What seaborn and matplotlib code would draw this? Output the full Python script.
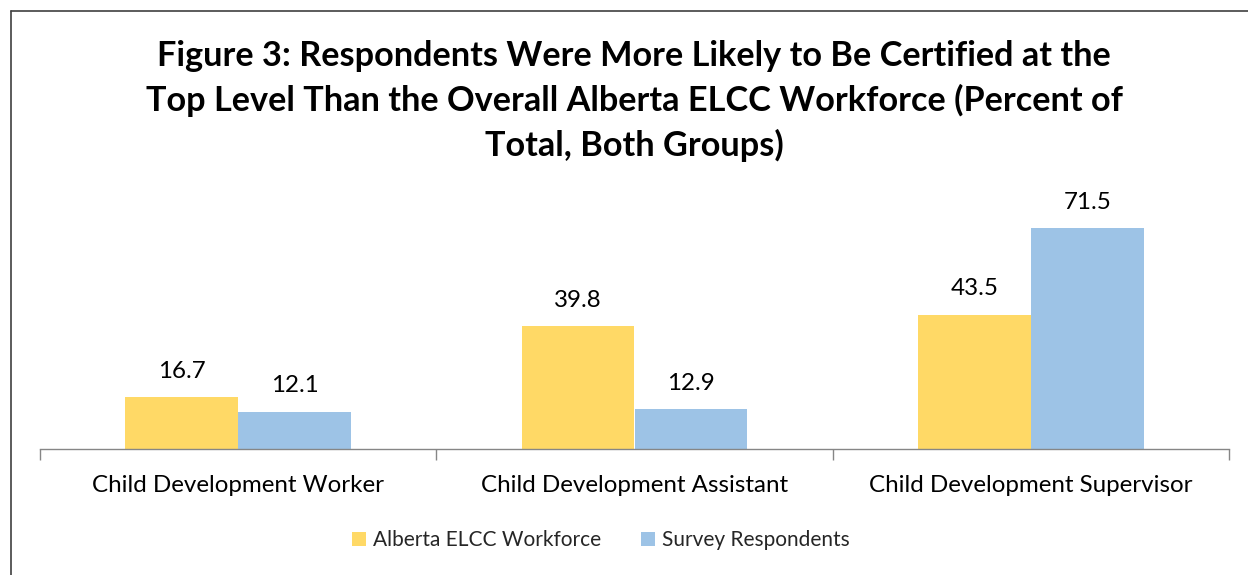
import matplotlib
matplotlib.use("Agg")
import matplotlib.pyplot as plt
from matplotlib.lines import Line2D
import seaborn as sns
import pandas as pd

categories = ["Child Development Worker", "Child Development Assistant", "Child Development Supervisor"]
series_names = ["Alberta ELCC Workforce", "Survey Respondents"]
workforce = [16.7, 39.8, 43.5]
respondents = [12.1, 12.9, 71.5]

title = ("Figure 3: Respondents Were More Likely to Be Certified at the\n"
         "Top Level Than the Overall Alberta ELCC Workforce (Percent of\n"
         "Total, Both Groups)")

colors = ["#FFD966", "#9DC3E6"]

df = pd.DataFrame({
    "category": categories * 2,
    "group": [series_names[0]] * 3 + [series_names[1]] * 3,
    "value": workforce + respondents,
})

sns.set_theme(style="white")
plt.rcParams["font.family"] = ["Lato", "DejaVu Sans"]

W, H = 1248, 575
fig = plt.figure(figsize=(W / 100, H / 100), dpi=100)
ax = fig.add_axes([40 / W, 1 - 449 / H, (1229 - 40) / W, (449 - 202) / H])

sns.barplot(data=df, x="category", y="value", hue="group", order=categories,
            hue_order=series_names, palette=colors, width=0.57, ax=ax,
            saturation=1, legend=True, edgecolor="none", linewidth=0)

ax.set_ylim(0, 80)
ax.set_xlim(-0.5, 2.5)
ax.set_xlabel("")
ax.set_ylabel("")
ax.set_yticks([])
for s in ["top", "right", "left"]:
    ax.spines[s].set_visible(False)
ax.spines["bottom"].set_color("#868686")
ax.spines["bottom"].set_linewidth(1.0)

ax.tick_params(axis="x", which="major", bottom=False, length=0, pad=19,
               labelsize=17.4, labelcolor="black")
ax.set_xticks([-0.5, 0.5, 1.5, 2.5], minor=True)
ax.tick_params(axis="x", which="minor", bottom=True, length=8, width=1.0,
               color="#868686", direction="out")

for cont in ax.containers:
    ax.bar_label(cont, labels=[f"{v:.1f}" for v in cont.datavalues],
                 padding=11, fontsize=17.4, color="black")

handles, labels = ax.get_legend_handles_labels()
ax.legend_.remove()
fig.legend(handles, labels, loc="center", bbox_to_anchor=(601 / W, 1 - 540 / H),
           ncol=2, frameon=False, fontsize=15, handlelength=0.65, handleheight=0.65,
           handletextpad=0.35, columnspacing=1.9)

fig.text(634 / W, 1 - 101 / H, title, ha="center", va="center", fontsize=24.7,
         fontweight="bold", linespacing=1.44, color="black")

# outer frame
fig.add_artist(Line2D([11 / W, 11 / W], [1 - 11 / H, 0], color="#404040", lw=1.2,
                      transform=fig.transFigure))
fig.add_artist(Line2D([11 / W, 1], [1 - 11 / H, 1 - 11 / H], color="#404040", lw=1.2,
                      transform=fig.transFigure))

fig.savefig("out.png", dpi=100, facecolor="white")
